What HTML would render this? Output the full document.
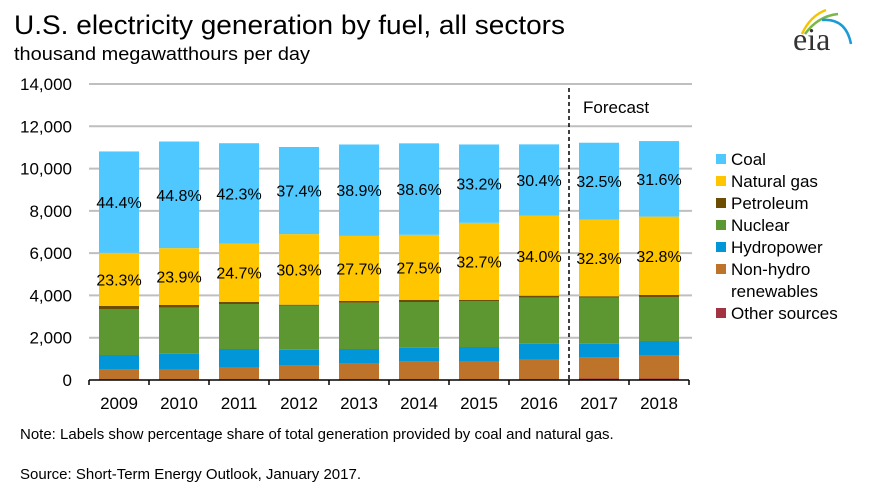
<!DOCTYPE html>
<html><head><meta charset="utf-8">
<style>
html,body{margin:0;padding:0;background:#fff;}
body{width:871px;height:497px;overflow:hidden;font-family:"Liberation Sans",Arial,sans-serif;}
svg text{font-family:"Liberation Sans",Arial,sans-serif;fill:#000;}
</style></head>
<body>
<svg id="chart" width="871" height="497" viewBox="0 0 871 497">
  <text x="14" y="34" font-size="27" textLength="551" lengthAdjust="spacingAndGlyphs">U.S. electricity generation by fuel, all sectors</text>
  <text x="14" y="60" font-size="18" textLength="296" lengthAdjust="spacingAndGlyphs">thousand  megawatthours per day</text>
  <g>
    <path d="M802 34 Q810 16 826 10" stroke="#f5c400" stroke-width="2.5" fill="none"/>
    <path d="M805 34 Q818 16 838 14" stroke="#7ab648" stroke-width="2.5" fill="none"/>
    <path d="M822 20 Q846 18 851 44" stroke="#1a9ad6" stroke-width="2.5" fill="none"/>
    <text x="793" y="50" font-size="32" style="font-family:'Liberation Serif',serif;fill:#333">eia</text>
  </g>
  <g id="grid"></g>
  <g id="bars"></g>
  <line x1="569" y1="88" x2="569" y2="380" stroke="#000" stroke-width="1.5" stroke-dasharray="4,3"/>
  <text x="583" y="113" font-size="17">Forecast</text>
  <g id="axis"></g>
  <g id="legend"></g>
  <text x="20" y="439" font-size="15">Note: Labels show percentage share of total generation provided by coal and natural gas.</text>
  <text x="20" y="479" font-size="15">Source: Short-Term Energy Outlook, January 2017.</text>
</svg>
<script>
const years = ["2009","2010","2011","2012","2013","2014","2015","2016","2017","2018"];
const other = [30,30,30,30,30,30,30,30,70,70];
const renewables = [457,490,585,646,741,836,869,963,985,1079];
const hydro = [695,724,851,757,695,662,662,724,662,696];
const nuclear = [2176,2176,2129,2081,2190,2161,2175,2176,2176,2081];
const petroleum = [142,127,94,47,80,95,48,94,66,94];
const gas = [2516,2690,2769,3339,3079,3082,3650,3779,3620,3708];
const coal = [4795,5043,4741,4121,4324,4327,3706,3379,3643,3572];
const coalPct = ["44.4%","44.8%","42.3%","37.4%","38.9%","38.6%","33.2%","30.4%","32.5%","31.6%"];
const gasPct = ["23.3%","23.9%","24.7%","30.3%","27.7%","27.5%","32.7%","34.0%","32.3%","32.8%"];
const yTicks = [0,2000,4000,6000,8000,10000,12000,14000];

const NS="http://www.w3.org/2000/svg";
const x0=89, catW=60, barW=40, yBase=380, yMax=14000, plotH=296;
function y(v){return yBase - v/yMax*plotH;}
function xc(i){return x0 + catW*i + catW/2;}
function mk(tag,attrs,parent){const e=document.createElementNS(NS,tag);for(const k in attrs)e.setAttribute(k,attrs[k]);parent.appendChild(e);return e;}

const grid=document.getElementById('grid');
yTicks.forEach(t=>{
  if(t>0){const l=mk('line',{x1:x0,x2:692,y1:y(t),y2:y(t),stroke:'#bfbfbf','stroke-width':2},grid);
  
  }
  const tx=mk('text',{x:72,y:y(t)+6,'font-size':17,'text-anchor':'end'},grid);
  
  
  tx.textContent=t.toLocaleString('en-US');
});

const series=[
  {name:'other',data:other,color:'#a33340'},
  {name:'renewables',data:renewables,color:'#bd732a'},
  {name:'hydropower',data:hydro,color:'#0096d7'},
  {name:'nuclear',data:nuclear,color:'#5d9732'},
  {name:'petroleum',data:petroleum,color:'#6b4c00'},
  {name:'natural-gas',data:gas,color:'#ffc600'},
  {name:'coal',data:coal,color:'#4fc8ff'}
];
const bars=document.getElementById('bars');
years.forEach((yr,i)=>{
  let cum=0;
  const starts={};
  series.forEach(s=>{
    const v=s.data[i];
    starts[s.name]=[cum,cum+v];
    const r=mk('rect',{x:xc(i)-barW/2,y:y(cum+v),width:barW,height:y(cum)-y(cum+v),fill:s.color},bars);
    
    
    cum+=v;
  });
  const g=starts['natural-gas'], c=starts['coal'];
  const t1=mk('text',{x:xc(i),y:y((g[0]+g[1])/2)+6,'font-size':16,'text-anchor':'middle'},bars);
  
  
  t1.textContent=gasPct[i];
  const t2=mk('text',{x:xc(i),y:y((c[0]+c[1])/2)+6,'font-size':16,'text-anchor':'middle'},bars);
  
  
  t2.textContent=coalPct[i];
});

const axis=document.getElementById('axis');
const al=mk('line',{x1:x0,x2:x0+catW*years.length,y1:yBase,y2:yBase,stroke:'#000','stroke-width':1.5},axis);


for(let i=0;i<=years.length;i++){
  const tk=mk('line',{x1:x0+catW*i,x2:x0+catW*i,y1:yBase,y2:yBase+5,stroke:'#000','stroke-width':1.5},axis);
  
  
}
years.forEach((yr,i)=>{
  const t=mk('text',{x:xc(i),y:409,'font-size':17,'text-anchor':'middle'},axis);
  
  
  t.textContent=yr;
});

const legendItems=[
  ['Coal','#4fc8ff',159,null],['Natural gas','#ffc600',181,null],['Petroleum','#6b4c00',203,null],
  ['Nuclear','#5d9732',225,null],['Hydropower','#0096d7',247,null],['Non-hydro','#bd732a',269,'renewables'],
  ['Other sources','#a33340',313,null]
];
const lg=document.getElementById('legend');
legendItems.forEach(it=>{
  const r=mk('rect',{x:716,y:it[2]-5,width:10,height:10,fill:it[1]},lg);
  
  
  const t=mk('text',{x:731,y:it[2]+6,'font-size':17},lg);
  
  
  t.textContent=it[0];
  if(it[3]){const t2=mk('text',{x:731,y:it[2]+28,'font-size':17},lg);
    
    
    t2.textContent=it[3];}
});
</script>
</body></html>
